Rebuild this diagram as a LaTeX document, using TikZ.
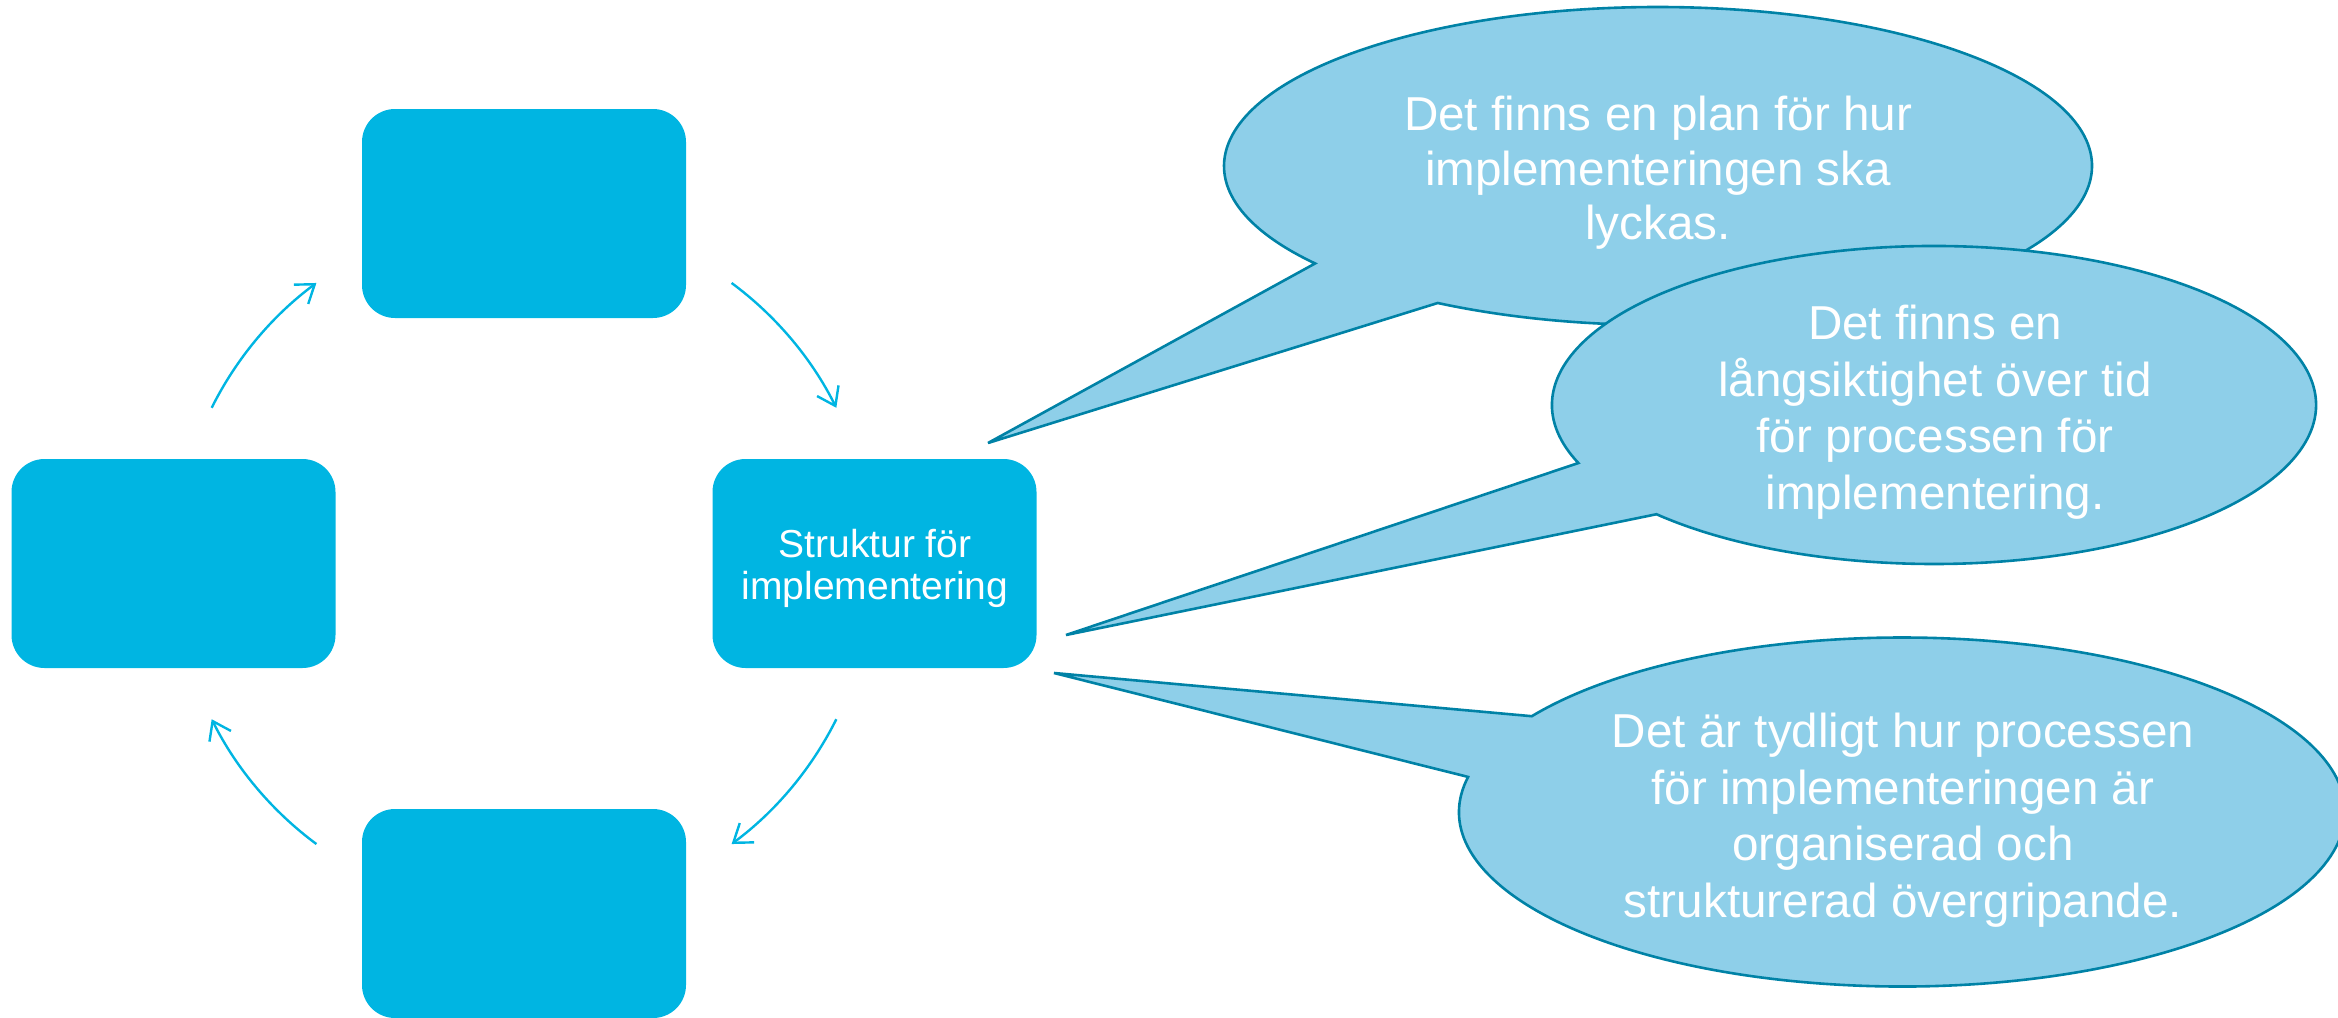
\documentclass[tikz,border=0pt]{standalone}
\usepackage{fontspec}
\setmainfont{Liberation Sans}
\usetikzlibrary{arrows.meta}
\definecolor{boxblue}{RGB}{0,181,226}
\definecolor{bubblefill}{RGB}{142,207,233}
\definecolor{bubbleline}{RGB}{0,130,166}
\tikzstyle{block}=[fill=boxblue,rounded corners=16.5pt,minimum width=162pt,minimum height=104.5pt,inner sep=0pt,text=white,align=center,font=\fontsize{19.5}{21}\selectfont]
\tikzstyle{cyc}=[draw=boxblue,line width=1.2pt,-{Straight Barb[length=8.5pt,width=12pt]}]
\tikzstyle{bubble}=[draw=bubbleline,fill=bubblefill,line width=1.3pt]
\tikzstyle{bubbletext}=[text=white,align=center,inner sep=0pt,font=\fontsize{23.8}{28.3}\selectfont]
\begin{document}
\begin{tikzpicture}[x=0.5pt,y=-0.5pt]
      \useasboundingbox (0,0) rectangle (2338,1017);
      \clip (0,0) rectangle (2338,1017);

      \node[block] (a) at (524,213.5) {};
      \node[block] (b) at (874.5,563.5) {};
      \node[block] (c) at (524,913.5) {};
      \node[block] (d) at (173.5,563.5) {};
      \node[text=white,align=center,font=\fontsize{19.5}{21}\selectfont] (bt) at (875,568) {Struktur för\\implementering};

      % cycle arrows round the boxes
      \coordinate (o) at (524,563.5);
      \foreach \s/\e in {-153.5/-126.5,-53.5/-26.5,26.5/53.5,126.5/153.5}
        \draw[cyc] ([shift={(\s:349)}]o) arc[start angle=\s,end angle=\e,radius=349];

      % speech bubbles
      \coordinate (e1) at (1658,166);
      \coordinate (p1) at (988,443);
      \draw[bubble] (p1) -- ([shift={(142.2:434 and 159)}]e1)
        arc[start angle=142.2,end angle=480.5,x radius=434,y radius=159] -- cycle;
      \node[bubbletext,font=\fontsize{23.8}{27.2}\selectfont] (t1) at (1658,173) {Det finns en plan för hur\\implementeringen ska\\lyckas.};

      \coordinate (e2) at (1934,405);
      \coordinate (p2) at (1066,635);
      \draw[bubble] (p2) -- ([shift={(158.6:382 and 159)}]e2)
        arc[start angle=158.6,end angle=496.6,x radius=382,y radius=159] -- cycle;
      \node[bubbletext] (t2) at (1935,412) {Det finns en\\långsiktighet över tid\\för processen för\\implementering.};

      \coordinate (e3) at (1902,812);
      \coordinate (p3) at (1054,673);
      \draw[bubble] (p3) -- ([shift={(191.6:443 and 174.5)}]e3)
        arc[start angle=191.6,end angle=-146.7,x radius=443,y radius=174.5] -- cycle;
      \node[bubbletext] (t3) at (1903,820) {Det är tydligt hur processen\\för implementeringen är\\organiserad och\\strukturerad övergripande.};

    \end{tikzpicture}
\end{document}
